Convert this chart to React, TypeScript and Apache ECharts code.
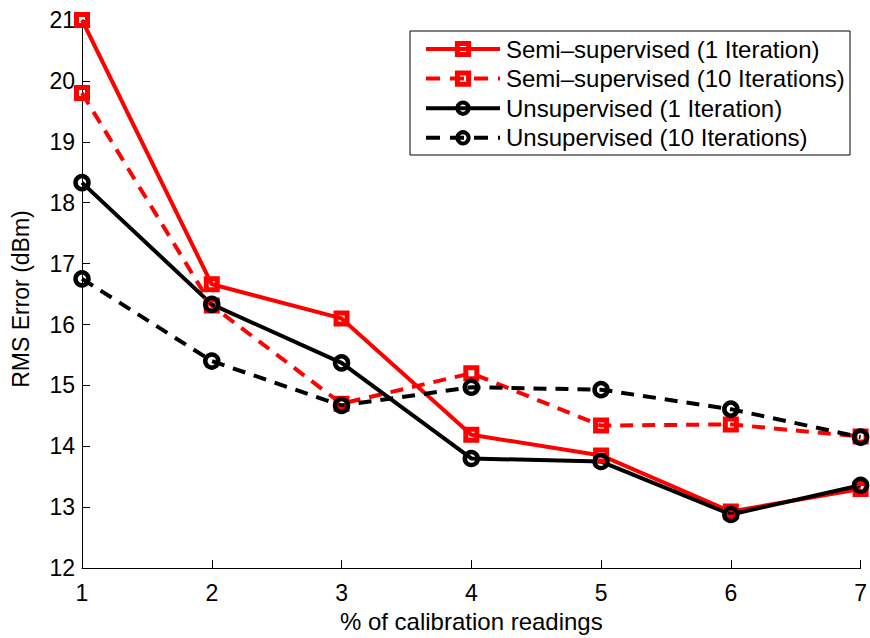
import React, { useEffect, useRef } from "react";
import * as echarts from "echarts";

const xValues = [1, 2, 3, 4, 5, 6, 7];
const semi1 = [21.0, 16.66, 16.1, 14.19, 13.85, 12.93, 13.3];
const semi10 = [19.8, 16.31, 14.7, 15.2, 14.34, 14.36, 14.16];
const unsup1 = [18.33, 16.33, 15.37, 13.8, 13.75, 12.88, 13.36];
const unsup10 = [16.75, 15.4, 14.67, 14.97, 14.93, 14.61, 14.15];
const seriesNames = [
  "Semi\u2013supervised (1 Iteration)",
  "Semi\u2013supervised (10 Iterations)",
  "Unsupervised (1 Iteration)",
  "Unsupervised (10 Iterations)",
];
const seriesColors = ["#ff0000", "#ff0000", "#000000", "#000000"];
const seriesSymbols = ["rect", "rect", "circle", "circle"];
const seriesDashed = [false, true, false, true];
const yTicks = { min: 12, max: 21, interval: 1 };
const xTicks = { min: 1, max: 7, interval: 1 };

const FONT = "Liberation Sans, Arial, Helvetica, sans-serif";

function pairs(vals: number[]) {
  return xValues.map((x, i) => [x, vals[i]]);
}

export default function App() {
  const ref = useRef<HTMLDivElement>(null);
  useEffect(() => {
    if (!ref.current) return;
    const chart = echarts.init(ref.current, undefined, { renderer: "svg" });
    const dash = [13, 9];
    const allVals = [semi1, semi10, unsup1, unsup10];
    const series = allVals.map((vals, i) => {
      const color = seriesColors[i];
      const symbol = seriesSymbols[i];
      return {
        name: seriesNames[i],
        type: "line",
        data: pairs(vals),
        symbol,
        symbolSize: symbol === "rect" ? 11 : 13,
        showAllSymbol: true,
        lineStyle: { color, width: 4, type: seriesDashed[i] ? dash : "solid" },
        itemStyle: {
          color: "transparent",
          borderColor: color,
          borderWidth: symbol === "rect" ? 5 : 4.5,
        },
        emphasis: { disabled: true },
      };
    });
    const legendData = seriesNames.map((name, i) => ({
      name,
      itemStyle: {
        color: "transparent",
        borderColor: seriesColors[i],
        borderWidth: seriesSymbols[i] === "rect" ? 5 : 4,
      },
      lineStyle: {
        color: seriesColors[i],
        width: 4,
        type: seriesDashed[i] ? [14, 10] : "solid",
      },
    }));
    chart.setOption({
      animation: false,
      backgroundColor: "#fff",
      textStyle: { fontFamily: FONT },
      grid: { left: 82, right: 5, top: 20, bottom: 67, containLabel: false },
      xAxis: {
        type: "value",
        min: xTicks.min,
        max: xTicks.max,
        interval: xTicks.interval,
        name: "% of calibration readings",
        nameLocation: "middle",
        nameGap: 37,
        nameTextStyle: { color: "#000", fontSize: 24, fontFamily: FONT },
        axisLine: { show: true, lineStyle: { color: "#000", width: 1 } },
        axisTick: { show: true, inside: true, length: 8, lineStyle: { color: "#000" } },
        axisLabel: { color: "#000", fontSize: 23, fontFamily: FONT, margin: 13 },
        splitLine: { show: false },
      },
      yAxis: {
        type: "value",
        min: yTicks.min,
        max: yTicks.max,
        interval: yTicks.interval,
        name: "RMS Error (dBm)",
        nameLocation: "middle",
        nameGap: 50,
        nameRotate: 90,
        nameTextStyle: { color: "#000", fontSize: 23, fontFamily: FONT, padding: [0, 10, 0, 0] },
        axisLine: { show: true, lineStyle: { color: "#000", width: 1 } },
        axisTick: { show: true, inside: true, length: 8, lineStyle: { color: "#000" } },
        axisLabel: { color: "#000", fontSize: 23, fontFamily: FONT, margin: 7 },
        splitLine: { show: false },
      },
      legend: {
        orient: "vertical",
        left: 410,
        top: 31,
        padding: [6, 0, 0, 14],
        itemWidth: 74,
        itemHeight: 14,
        itemGap: 5.6,
        selectedMode: false,
        textStyle: { color: "#000", fontSize: 24, lineHeight: 22, fontFamily: FONT, padding: [0, 0, 0, 1] },
        data: legendData,
      },
      graphic: [
        {
          type: "rect",
          shape: { x: 410, y: 31, width: 440, height: 124 },
          style: { fill: "none", stroke: "#000", lineWidth: 1 },
          z: 100,
          silent: true,
        },
      ],
      series,
    });
    return () => chart.dispose();
  }, []);
  return <div ref={ref} style={{ width: 870, height: 638, position: "absolute", left: 0, top: 0 }} />;
}
